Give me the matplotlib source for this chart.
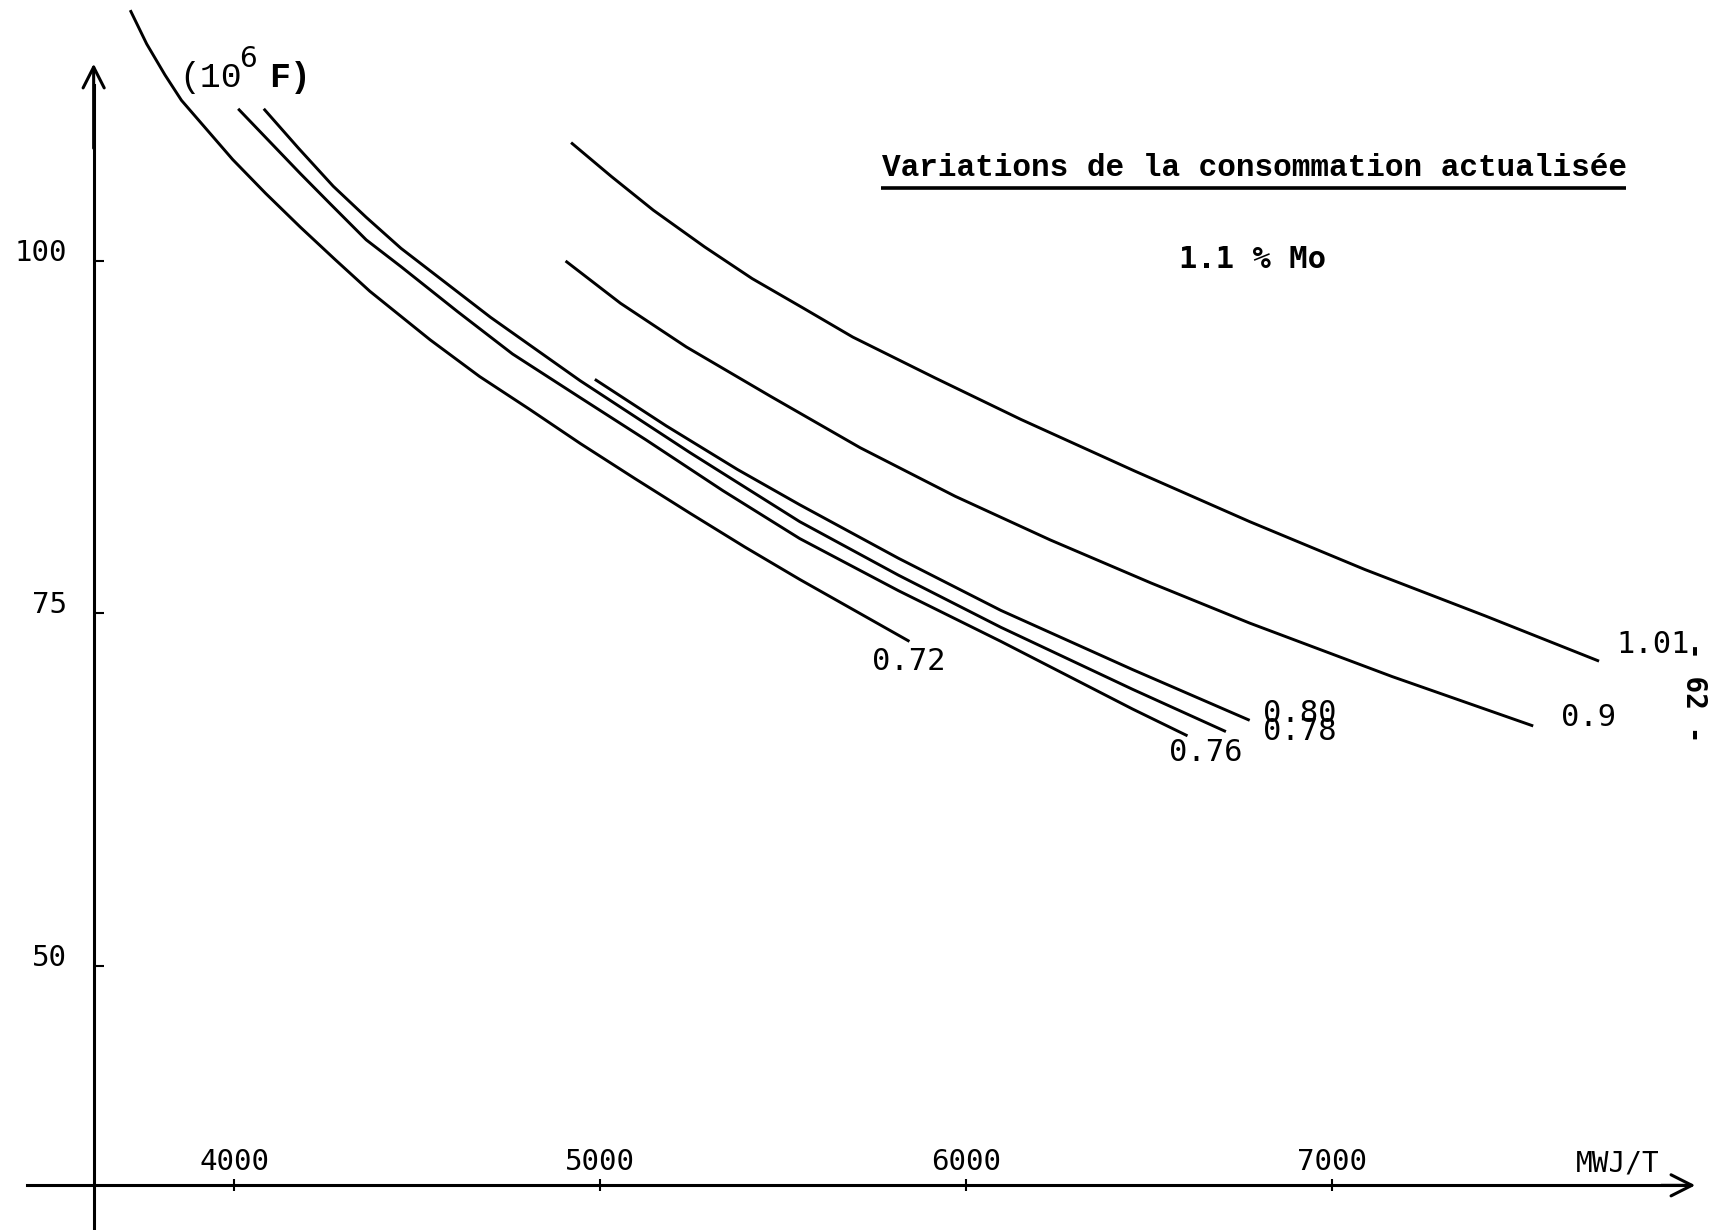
import matplotlib
matplotlib.use("Agg")
import matplotlib.pyplot as plt

plt.rcParams['font.family'] = ['DejaVu Sans Mono', 'DejaVu Sans']

# Discounted consumption (10^6 F) against burn-up (MWJ/T), one curve per parameter value
burnup_072 = [3715, 3760, 3810, 3855, 3925, 3995, 4085, 4180, 4275, 4370,
              4535, 4670, 4805, 4945, 5095, 5245, 5395, 5545, 5695, 5845]
cost_072 = [117.8, 115.4, 113.2, 111.4, 109.3, 107.2, 104.8, 102.4, 100.1, 97.85,
            94.4, 91.8, 89.5, 87.05, 84.55, 82.1, 79.7, 77.4, 75.2, 73.0]

burnup_076 = [4010, 4095, 4180, 4260, 4360, 4455, 4610, 4760, 4945, 5125,
              5335, 5545, 5815, 6095, 6455, 6605]
cost_076 = [110.8, 108.5, 106.2, 104.1, 101.5, 99.6, 96.4, 93.4, 90.3, 87.3,
            83.7, 80.3, 76.6, 73.0, 68.2, 66.3]

burnup_078 = [4080, 4175, 4270, 4360, 4455, 4700, 4945, 5245, 5545, 5815,
              6095, 6455, 6710]
cost_078 = [110.8, 108.0, 105.3, 103.1, 100.9, 96.0, 91.5, 86.4, 81.5, 77.7,
            74.0, 69.6, 66.6]

burnup_080 = [4985, 5180, 5375, 5545, 5815, 6095, 6275, 6455, 6615, 6775]
cost_080 = [91.6, 88.3, 85.2, 82.7, 78.9, 75.2, 73.1, 71.0, 69.2, 67.4]

burnup_090 = [4905, 5055, 5235, 5465, 5710, 5970, 6230, 6505, 6775, 7165, 7550]
cost_090 = [100.0, 97.0, 93.9, 90.4, 86.75, 83.3, 80.2, 77.15, 74.3, 70.5, 67.0]

burnup_101 = [4920, 5030, 5145, 5285, 5415, 5555, 5690, 5915, 6150, 6460,
              6775, 7090, 7420, 7730]
cost_101 = [108.4, 106.0, 103.6, 101.0, 98.75, 96.65, 94.6, 91.7, 88.75, 85.1,
            81.5, 78.1, 74.8, 71.6]

curve_labels = ["0.72", "0.76", "0.78", "0.80", "0.9", "1.01"]
label_x = [5842, 6654, 6913, 6913, 7701, 7879]
label_y = [71.6, 65.1, 66.6, 67.9, 67.6, 72.8]

x_ticks = [4000, 5000, 6000, 7000]
x_tick_labels = ["4000", "5000", "6000", "7000"]
y_ticks = [50, 75, 100]
y_tick_labels = ["50", "75", "100"]

series = [
    (burnup_072, cost_072),
    (burnup_076, cost_076),
    (burnup_078, cost_078),
    (burnup_080, cost_080),
    (burnup_090, cost_090),
    (burnup_101, cost_101),
]

fig = plt.figure(figsize=(17.26, 12.30), dpi=100)
ax = fig.add_axes([0, 0, 1, 1])
ax.set_xlim(3359, 8077)
ax.set_ylim(31.23, 118.52)

# Hand-drawn style axes crossing inside the frame
x_origin, y_origin = 3615, 34.4
for side in ("top", "right"):
    ax.spines[side].set_visible(False)
ax.spines["left"].set_position(("data", x_origin))
ax.spines["left"].set_bounds(31.23, 112.5)
ax.spines["bottom"].set_position(("data", y_origin))
ax.spines["bottom"].set_bounds(3434, 7975)
for side in ("left", "bottom"):
    ax.spines[side].set_linewidth(2.2)
    ax.spines[side].set_color("black")

arrow = dict(arrowstyle="->,head_length=0.75,head_width=0.38", lw=2.2,
             color="black", mutation_scale=20, shrinkA=0, shrinkB=0)
ax.annotate("", xy=(x_origin, 114.0), xytext=(x_origin, 108), arrowprops=arrow)
ax.annotate("", xy=(7993, y_origin), xytext=(7900, y_origin), arrowprops=arrow)

ax.set_xticks(x_ticks)
ax.set_xticklabels(x_tick_labels)
ax.set_yticks(y_ticks)
ax.set_yticklabels(y_tick_labels)
ax.tick_params(axis="x", direction="inout", length=8, width=1.5, pad=-31,
               labelsize=21)
ax.tick_params(axis="y", direction="in", length=7, width=1.5, pad=19,
               labelsize=21)
for lbl in ax.get_yticklabels():
    lbl.set_verticalalignment("baseline")

for xs, ys in series:
    ax.plot(xs, ys, color="black", lw=2.1, solid_joinstyle="round",
            solid_capstyle="butt")

for txt, lx, ly in zip(curve_labels, label_x, label_y):
    ax.text(lx, ly, txt, ha="center", va="center", fontsize=22)

# Unit of the vertical axis
ax.text(3848, 113.0, "(10", ha="left", va="center", fontsize=25,
        family="Liberation Mono")
ax.text(4012, 114.3, "6", ha="left", va="center", fontsize=20,
        family="DejaVu Sans")
ax.text(4094, 113.0, "F)", ha="left", va="center", fontsize=25,
        family="Liberation Mono", weight="bold")

ax.text(7782, 35.95, "MWJ/T", ha="center", va="center", fontsize=20)

# Title block
ax.text(6787, 106.6, "Variations de la consommation actualisée",
        ha="center", va="center", fontsize=22.4, family="Liberation Mono",
        weight="bold")
ax.plot([5766, 7805], [105.2, 105.2], color="black", lw=2.6,
        solid_capstyle="butt")
ax.text(6783, 100.1, "1.1 % Mo", ha="center", va="center", fontsize=22,
        family="DejaVu Sans Mono", weight="bold")

# Page number written along the margin
ax.text(7990, 69.4, "- 62 -", ha="center", va="center", rotation=-90,
        fontsize=20, weight="bold")

fig.savefig("out.png", dpi=100, facecolor="white")
